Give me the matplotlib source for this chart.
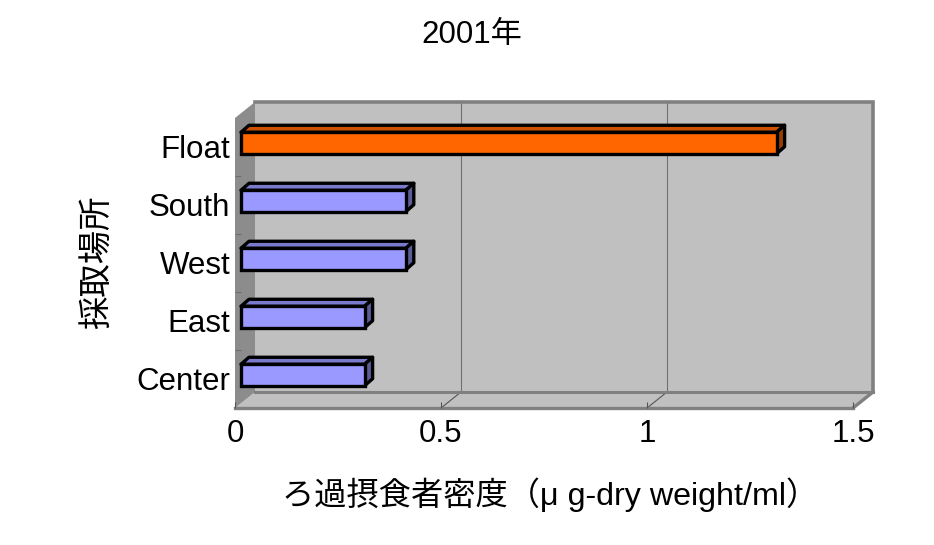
import matplotlib
matplotlib.use("Agg")
import matplotlib.pyplot as plt
from matplotlib.patches import Polygon
from matplotlib.transforms import Affine2D

plt.rcParams['font.family'] = ['Liberation Sans', 'Noto Sans CJK JP', 'DejaVu Sans']

title = "2001年"
xlabel = "ろ過摂食者密度（μ g-dry weight/ml）"
ylabel = "採取場所"
categories = ["Center", "East", "West", "South", "Float"]
values = [0.30, 0.30, 0.40, 0.40, 1.30]
front_colors = ["#9999FF", "#9999FF", "#9999FF", "#9999FF", "#FF6600"]
top_colors = ["#7A7ACC", "#7A7ACC", "#7A7ACC", "#7A7ACC", "#CC5200"]
side_colors = ["#5C5C99", "#5C5C99", "#5C5C99", "#5C5C99", "#994000"]
xticks = [0, 0.5, 1, 1.5]
xticklabels = ["0", "0.5", "1", "1.5"]

W, H = 934, 545
fig = plt.figure(figsize=(W / 100, H / 100), dpi=100, facecolor="white")
# axes = front plane of the chart box
L, R, T_, B = 235, 853, 118, 408
ax = fig.add_axes([L / W, 1 - B / H, (R - L) / W, (B - T_) / H])
ax.set_xlim(0, 1.5)
ax.set_ylim(-0.5, 4.5)
ax.patch.set_visible(False)
ax.set_axisbelow(False)
for s in ax.spines.values():
    s.set_visible(False)


def shift(dx, dy):
    return ax.transData + Affine2D().translate(dx, dy)


DX, DY = 20, 16
y0, y1 = ax.get_ylim()
x0, x1 = ax.get_xlim()
WALL = "#C0C0C0"
EDGE = "#808080"
back = shift(DX, DY)


def depth_poly(p_front, p_back, **kw):
    # quad joining two data points on the front plane to the back plane
    a = ax.transData.transform(p_front)
    b = ax.transData.transform(p_back)
    pts = [a, b, b + (DX, DY), a + (DX, DY)]
    ax.add_patch(Polygon(pts, closed=True, transform=None, clip_on=False, **kw))


# back wall, floor, side wall
ax.add_patch(plt.Rectangle((x0, y0), x1 - x0, y1 - y0, transform=back, fc=WALL, ec="none",
                           zorder=1, clip_on=False))
depth_poly((x0, y0), (x1, y0), fc=WALL, ec="none", zorder=1.5)
depth_poly((x0, y0), (x0, y1), fc="#8C8C8C", ec="none", zorder=2)

# grid on back wall and floor
for v in xticks[1:-1]:
    ax.plot([v, v], [y0, y1], transform=back, color="#707070", lw=0.8, zorder=2, clip_on=False)
    a = ax.transData.transform((v, y0))
    ax.plot([a[0], a[0] + DX], [a[1], a[1] + DY], transform=None, color="#555555", lw=0.8,
            zorder=2, clip_on=False)

# box edges
ax.plot([x0, x1, x1], [y1, y1, y0], transform=back, color=EDGE, lw=2.6, zorder=2.5,
        solid_joinstyle="miter", clip_on=False)
ax.plot([x0, x1], [y0, y0], transform=back, color=EDGE, lw=2.2, zorder=2.5, clip_on=False)
ax.plot([x0, x1], [y0, y0], color=EDGE, lw=2.4, zorder=2.5, clip_on=False)
a = ax.transData.transform((x1, y0))
ax.plot([a[0], a[0] + DX], [a[1], a[1] + DY], transform=None, color=EDGE, lw=2.4, zorder=2.5,
        clip_on=False)

# bars
BX, BY = 6, 4
dx, dy = 8, 7
bh = 0.37
ft = shift(BX, BY)
lw = 2.4
for i, (v, fc, tc, sc) in enumerate(zip(values, front_colors, top_colors, side_colors)):
    a = ft.transform((0, i + bh / 2))
    b = ft.transform((v, i + bh / 2))
    c = ft.transform((v, i - bh / 2))
    ax.add_patch(Polygon([a, b, b + (dx, dy), a + (dx, dy)], closed=True, transform=None,
                         fc=tc, ec="black", lw=lw, zorder=3, joinstyle="round", clip_on=False))
    ax.add_patch(Polygon([b, c, c + (dx, dy), b + (dx, dy)], closed=True, transform=None,
                         fc=sc, ec="black", lw=lw, zorder=3, joinstyle="round", clip_on=False))
ax.barh(range(len(values)), values, height=bh, color=front_colors, edgecolor="black",
        linewidth=lw, transform=ft, zorder=4, clip_on=False)
ax.set_xlim(0, 1.5)
ax.set_ylim(-0.5, 4.5)

ax.set_yticks(range(len(categories)))
ax.set_yticklabels(categories)
ax.set_yticks([k + 0.5 for k in range(len(categories) - 1)], minor=True)
ax.set_xticks(xticks)
ax.set_xticklabels(xticklabels)
ax.tick_params(axis="y", which="major", length=0, pad=3.5, labelsize=22.5)
ax.tick_params(axis="y", which="minor", direction="in", length=4, width=0.8, color="#6E6E6E")
ax.tick_params(axis="x", direction="in", length=4, width=0.8, color="#555555", pad=8, labelsize=22.5)

fig.text(472 / W, 1 - 35 / H, title, ha="center", va="center", fontsize=22.5)
fig.text(550.5 / W, 1 - 495 / H, xlabel, ha="center", va="center", fontsize=23.2)
fig.text(97 / W, 1 - 262 / H, ylabel, ha="center", va="center", rotation=90, fontsize=24)

fig.savefig("out.png", dpi=100)
